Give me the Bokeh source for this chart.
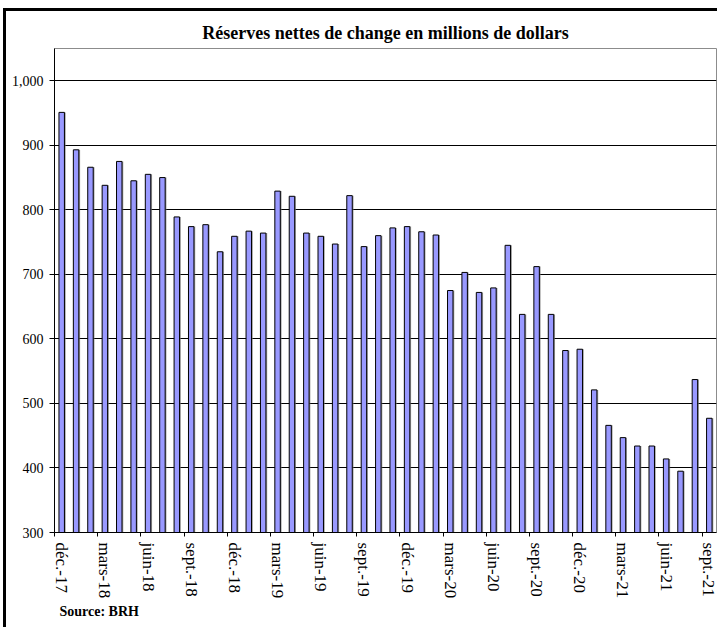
from bokeh.plotting import figure
from bokeh.models import (ColumnDataSource, Range1d, FixedTicker, LinearAxis,
                          NumeralTickFormatter, Title)
from bokeh.transform import dodge
from bokeh.embed import file_html
from bokeh.resources import INLINE

# ---- data ----
months = ["déc.-17",
          "janv.-18", "févr.-18", "mars-18", "avr.-18", "mai-18", "juin-18",
          "juil.-18", "août-18", "sept.-18", "oct.-18", "nov.-18", "déc.-18",
          "janv.-19", "févr.-19", "mars-19", "avr.-19", "mai-19", "juin-19",
          "juil.-19", "août-19", "sept.-19", "oct.-19", "nov.-19", "déc.-19",
          "janv.-20", "févr.-20", "mars-20", "avr.-20", "mai-20", "juin-20",
          "juil.-20", "août-20", "sept.-20", "oct.-20", "nov.-20", "déc.-20",
          "janv.-21", "févr.-21", "mars-21", "avr.-21", "mai-21", "juin-21",
          "juil.-21", "août-21", "sept.-21"]
reserves = [951, 893, 866, 838, 875, 845, 855, 850, 789, 774,
            777, 735, 759, 767, 764, 829, 821, 764, 759, 747,
            822, 743, 760, 772, 774, 766, 761, 675, 703, 672,
            679, 745, 638, 712, 638, 582, 584, 521, 466, 447,
            434, 434, 414, 395, 537, 477]
y_ticks = [300, 400, 500, 600, 700, 800, 900, 1000]
title_text = "Réserves nettes de change en millions de dollars"
source_text = "Source: BRH"

FONT = "Liberation Serif"
n = len(months)
xs = [i + 0.5 for i in range(n)]
src = ColumnDataSource(dict(x=xs, top=reserves, month=months))

p = figure(width=717, height=627, output_backend="svg", toolbar_location=None,
           x_range=Range1d(0, n), y_range=Range1d(300, 1050),
           min_border_left=54, min_border_right=1, min_border_top=48,
           min_border_bottom=95)

# outer frame (only the left and top edges are visible in the reference)
p.styles = {
    "background-color": "white",
    "background-image": "linear-gradient(black, black), linear-gradient(black, black)",
    "background-position": "3px 8px, 3px 8px",
    "background-size": "3px 100%, 100% 3px",
    "background-repeat": "no-repeat, no-repeat",
}

p.title.text = title_text
p.title.text_font = FONT
p.title.text_font_size = "18px"
p.title.text_font_style = "bold"
p.title.align = "center"
p.title.text_color = "black"
p.title.standoff = 11

p.outline_line_color = "#8c8c8c"
p.outline_line_width = 1
p.background_fill_color = "white"
p.border_fill_color = None

# shadow + bars
p.vbar(x=dodge("x", 0.09, range=p.x_range), top="top", bottom=300, width=0.38,
       source=src, fill_color="#777777", line_color=None, fill_alpha=0.7)
p.vbar(x="x", top="top", bottom=300, width=0.38, source=src,
       fill_color="#9999FF", line_color="black", line_width=1)

# grid
p.xgrid.visible = False
p.ygrid.ticker = FixedTicker(ticks=y_ticks[1:])
p.ygrid.grid_line_color = "black"
p.ygrid.grid_line_width = 1
p.ygrid.level = "underlay"

# y axis
ya = p.yaxis[0]
ya.ticker = FixedTicker(ticks=y_ticks)
ya.formatter = NumeralTickFormatter(format="0,0")
ya.major_tick_out = 5
ya.major_tick_in = 0
ya.minor_tick_line_color = None
ya.axis_line_color = "black"
ya.major_tick_line_color = "black"
ya.major_label_text_font = FONT
ya.major_label_text_font_size = "14px"
ya.major_label_text_color = "black"
ya.major_label_standoff = 6

# x axis: tick marks at category boundaries
xa = p.xaxis[0]
xa.ticker = FixedTicker(ticks=list(range(0, n + 1, 3)))
xa.major_tick_out = 4
xa.major_tick_in = 0
xa.minor_tick_line_color = None
xa.axis_line_color = "black"
xa.major_tick_line_color = "black"
xa.major_label_text_font_size = "0px"
xa.major_label_standoff = 0

# x axis: labels at category centres
label_pos = [xs[i] for i in range(0, n, 3)]
xl = LinearAxis(ticker=FixedTicker(ticks=label_pos),
                major_label_overrides={xs[i]: months[i] for i in range(0, n, 3)})
xl.axis_line_color = None
xl.major_tick_line_color = None
xl.minor_tick_line_color = None
xl.major_tick_out = 0
xl.major_tick_in = 0
xl.major_label_orientation = "vertical"
xl.major_label_text_font = FONT
xl.major_label_text_font_size = "17px"
xl.major_label_text_color = "black"
xl.major_label_standoff = 6
p.add_layout(xl, "below")

# source note
st = Title(text=source_text, align="left", text_font=FONT, text_font_size="14px",
           text_font_style="bold", text_color="black", offset=5, standoff=1)
p.add_layout(st, "below")

open("out.html", "w").write(file_html(p, INLINE))
